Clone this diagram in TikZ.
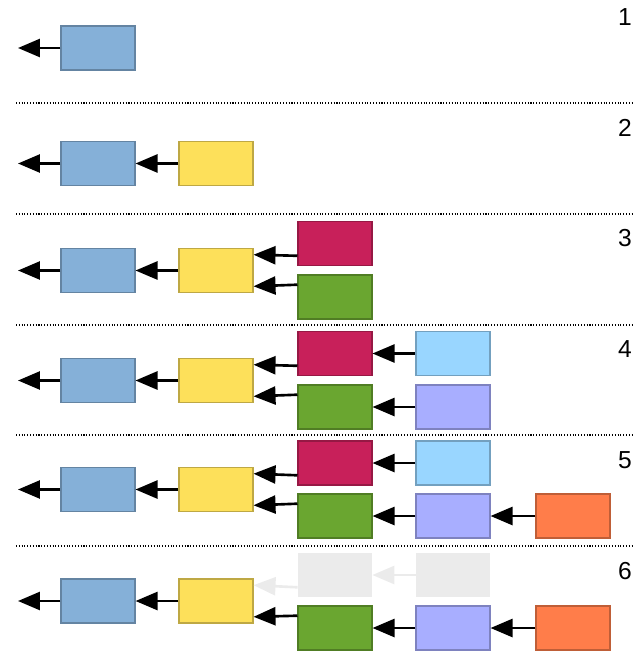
\documentclass[tikz,border=0pt]{standalone}
\usepackage{fontspec}
\setmainfont{Liberation Sans}
\usetikzlibrary{arrows.meta}
\definecolor{cblue}{HTML}{85B0D8}
\definecolor{cyellow}{HTML}{FDE05A}
\definecolor{cred}{HTML}{C8205A}
\definecolor{cgreen}{HTML}{6AA630}
\definecolor{csky}{HTML}{99D6FF}
\definecolor{clav}{HTML}{A8AEFF}
\definecolor{corange}{HTML}{FF7D4A}
\definecolor{cgrey}{HTML}{EBEBEB}
\tikzset{
  blk/.style={minimum width=1.48cm, minimum height=0.88cm, inner sep=0, draw=#1!75!black, fill=#1, line width=0.6pt},
  ghost/.style={minimum width=1.48cm, minimum height=0.88cm, inner sep=0, fill=cgrey},
  link/.style={line width=1.5pt, -{Triangle[length=0.44cm, width=0.36cm]}},
  glink/.style={link, draw=cgrey, -{Triangle[length=0.44cm, width=0.36cm, fill=cgrey]}},
  sep/.style={densely dotted, line width=0.6pt},
  num/.style={font=\fontsize{14}{16}\selectfont}
}
\begin{document}
\begin{tikzpicture}[x=0.02cm, y=-0.02cm]
  \useasboundingbox (0,0) rectangle (640,661);

  % separators
  \foreach \yy in {103, 214, 325, 435, 546}
    \draw [sep] (16,\yy) -- (632,\yy);

  % row 1
  \node [num] (n1) at (625,17) {1};
  \node [blk=cblue] (a1) at (98,48) {};
  \coordinate (e1) at (18,48);
  \draw [link] (a1) -- (e1);

  % row 2
  \node [num] (n2) at (625,128) {2};
  \node [blk=cblue] (a2) at (98,163.5) {};
  \node [blk=cyellow] (b2) at (216,163.5) {};
  \coordinate (e2) at (18,163.5);
  \draw [link] (a2) -- (e2);
  \draw [link] (b2) -- (a2);

  % row 3
  \node [num] (n3) at (625,238) {3};
  \node [blk=cblue] (a3) at (98,270.5) {};
  \node [blk=cyellow] (b3) at (216,270.5) {};
  \node [blk=cred] (c3) at (335,243.5) {};
  \node [blk=cgreen] (d3) at (335,297) {};
  \coordinate (e3) at (18,270.5);
  \draw [link] (a3) -- (e3);
  \draw [link] (b3) -- (a3);
  \draw [link] ([yshift=-7]c3.west) -- ([yshift=9]b3.east);
  \draw [link] ([yshift=7]d3.west) -- ([yshift=-9]b3.east);

  % row 4
  \node [num] (n4) at (625,349) {4};
  \node [blk=cblue] (a4) at (98,380.5) {};
  \node [blk=cyellow] (b4) at (216,380.5) {};
  \node [blk=cred] (c4) at (335,353.5) {};
  \node [blk=cgreen] (d4) at (335,407) {};
  \node [blk=csky] (f4) at (453,353.5) {};
  \node [blk=clav] (g4) at (453,407) {};
  \coordinate (e4) at (18,380.5);
  \draw [link] (a4) -- (e4);
  \draw [link] (b4) -- (a4);
  \draw [link] ([yshift=-7]c4.west) -- ([yshift=9]b4.east);
  \draw [link] ([yshift=7]d4.west) -- ([yshift=-9]b4.east);
  \draw [link] (f4) -- (c4);
  \draw [link] (g4) -- (d4);

  % row 5
  \node [num] (n5) at (625,460) {5};
  \node [blk=cblue] (a5) at (98,489.5) {};
  \node [blk=cyellow] (b5) at (216,489.5) {};
  \node [blk=cred] (c5) at (335,463) {};
  \node [blk=cgreen] (d5) at (335,516) {};
  \node [blk=csky] (f5) at (453,463) {};
  \node [blk=clav] (g5) at (453,516) {};
  \node [blk=corange] (h5) at (573,516) {};
  \coordinate (e5) at (18,489.5);
  \draw [link] (a5) -- (e5);
  \draw [link] (b5) -- (a5);
  \draw [link] ([yshift=-7]c5.west) -- ([yshift=9]b5.east);
  \draw [link] ([yshift=7]d5.west) -- ([yshift=-9]b5.east);
  \draw [link] (f5) -- (c5);
  \draw [link] (g5) -- (d5);
  \draw [link] (h5) -- (g5);

  % row 6
  \node [num] (n6) at (625,571) {6};
  \node [blk=cblue] (a6) at (98,601) {};
  \node [blk=cyellow] (b6) at (216,601) {};
  \node [ghost] (c6) at (335,575) {};
  \node [blk=cgreen] (d6) at (335,628) {};
  \node [ghost] (f6) at (453,575) {};
  \node [blk=clav] (g6) at (453,628) {};
  \node [blk=corange] (h6) at (573,628) {};
  \coordinate (e6) at (18,601);
  \draw [link] (a6) -- (e6);
  \draw [link] (b6) -- (a6);
  \draw [glink] ([yshift=-7]c6.west) -- ([yshift=9]b6.east);
  \draw [link] ([yshift=7]d6.west) -- ([yshift=-9]b6.east);
  \draw [glink] (f6) -- (c6);
  \draw [link] (g6) -- (d6);
  \draw [link] (h6) -- (g6);
\end{tikzpicture}
\end{document}
